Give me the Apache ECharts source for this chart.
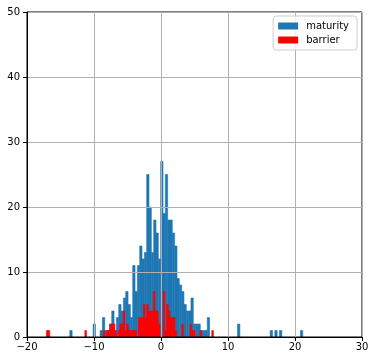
<!DOCTYPE html>
<html>
<head>
<meta charset="utf-8">
<script src="https://cdn.jsdelivr.net/npm/echarts@6/dist/echarts.min.js"></script>
<style>
  html, body { margin: 0; padding: 0; background: #fff; }
  #chart { width: 375px; height: 361px; }
</style>
</head>
<body>
<div id="chart"></div>
<script>
// x / y axis ticks
var xTicks = [-20, -10, 0, 10, 20, 30];
var yTicks = [0, 10, 20, 30, 40, 50];
var seriesNames = ['maturity', 'barrier'];

// histogram of maturity: 100 bins between min and max
var maturityRange = [-13.61, 21.16];
var maturityCounts = [
  1, 0, 0, 0, 0, 0, 0, 0, 0, 0,
  2, 0, 0, 1, 3, 1, 1, 2, 4, 1,
  3, 5, 4, 6, 7, 5, 3, 11, 7, 11,
  14, 12, 13, 25, 20, 13, 18, 16, 12, 27,
  19, 25, 18, 18, 16, 14, 9, 8, 7, 5,
  4, 4, 6, 2, 2, 2, 1, 1, 1, 3,
  0, 0, 0, 0, 0, 0, 0, 0, 0, 0,
  0, 0, 2, 0, 0, 0, 0, 0, 0, 0,
  0, 0, 0, 0, 0, 0, 1, 0, 1, 0,
  1, 0, 0, 0, 0, 0, 0, 0, 0, 1
];

// histogram of barrier: 100 bins between min and max
var barrierRange = [-17.10, 7.82];
var barrierCounts = [
  1, 1, 0, 0, 0, 0, 0, 0, 0, 0,
  0, 0, 0, 0, 0, 0, 0, 0, 0, 0,
  0, 0, 0, 1, 0, 0, 0, 0, 0, 0,
  0, 0, 0, 0, 1, 0, 1, 1, 2, 2,
  2, 1, 0, 1, 2, 2, 4, 1, 2, 1,
  1, 1, 1, 1, 0, 3, 3, 3, 5, 3,
  5, 4, 4, 4, 7, 4, 4, 2, 0, 0,
  7, 1, 5, 4, 3, 3, 3, 1, 0, 0,
  0, 2, 0, 0, 0, 0, 2, 1, 1, 0,
  0, 0, 1, 0, 0, 0, 0, 0, 0, 1
];

var colors = ['#1f77b4', '#ff0000'];

function toBins(range, counts) {
  var w = (range[1] - range[0]) / counts.length;
  var out = [];
  counts.forEach(function (c, i) {
    if (c > 0) out.push([range[0] + i * w, range[0] + (i + 1) * w, c]);
  });
  return out;
}

function histSeries(name, data, color) {
  return {
    name: name,
    type: 'custom',
    z: -1,
    itemStyle: { color: color },
    encode: { x: [0, 1], y: 2 },
    data: data,
    renderItem: function (params, api) {
      var p0 = api.coord([api.value(0), api.value(2)]);
      var p1 = api.coord([api.value(1), 0]);
      return {
        type: 'rect',
        shape: { x: p0[0], y: p0[1], width: p1[0] - p0[0], height: p1[1] - p0[1] },
        style: { fill: color, stroke: color, lineWidth: 0.6 }
      };
    }
  };
}

var font = 'DejaVu Sans';
var minus = function (v) { return String(v).replace('-', '\u2212'); };

var myChart = echarts.init(document.getElementById('chart'), null, { renderer: 'canvas' });
myChart.setOption({
  animation: false,
  textStyle: { fontFamily: font },
  grid: {
    left: 27, right: 13, top: 12, bottom: 24,
    show: true, borderColor: '#000', borderWidth: 1, backgroundColor: 'transparent'
  },
  legend: {
    orient: 'vertical',
    right: 18, top: 16,
    padding: [5, 8, 5, 5],
    itemGap: 4,
    itemWidth: 20, itemHeight: 7,
    icon: 'rect',
    backgroundColor: 'rgba(255,255,255,0.8)',
    borderColor: '#cccccc', borderWidth: 1, borderRadius: 3,
    textStyle: { fontFamily: font, fontSize: 10, color: '#000', padding: [0, 0, 0, 3] },
    data: seriesNames
  },
  xAxis: {
    type: 'value',
    min: xTicks[0], max: xTicks[xTicks.length - 1], interval: 10,
    axisLine: { show: true, onZero: false, lineStyle: { color: '#000', width: 1 } },
    axisTick: { show: true, length: 4, lineStyle: { color: '#000' } },
    axisLabel: { fontFamily: font, fontSize: 10, color: '#000', margin: 5, formatter: minus },
    splitLine: { show: true, lineStyle: { color: '#b0b0b0', width: 1 } }
  },
  yAxis: {
    type: 'value',
    min: yTicks[0], max: yTicks[yTicks.length - 1], interval: 10,
    axisLine: { show: true, onZero: false, lineStyle: { color: '#000', width: 1 } },
    axisTick: { show: true, length: 4, lineStyle: { color: '#000' } },
    axisLabel: { fontFamily: font, fontSize: 10, color: '#000', margin: 7 },
    splitLine: { show: true, lineStyle: { color: '#b0b0b0', width: 1 } }
  },
  series: [
    histSeries(seriesNames[0], toBins(maturityRange, maturityCounts), colors[0]),
    histSeries(seriesNames[1], toBins(barrierRange, barrierCounts), colors[1])
  ]
});
</script>
</body>
</html>
